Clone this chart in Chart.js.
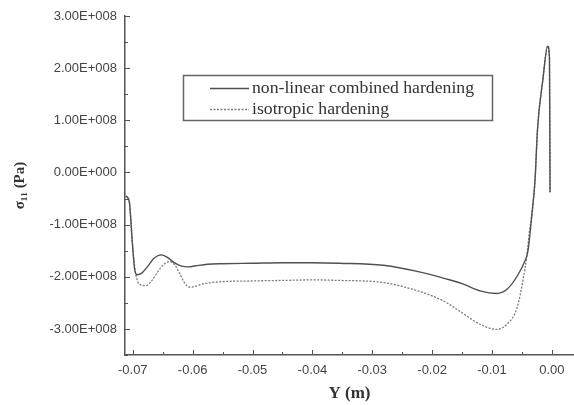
<!DOCTYPE html>
<html>
<head>
<meta charset="utf-8">
<script src="https://cdn.jsdelivr.net/npm/chart.js@4/dist/chart.umd.min.js"></script>
<style>
  html, body { margin: 0; padding: 0; background: #fff; }
  #wrap { width: 574px; height: 405px; }
</style>
</head>
<body>
<div id="wrap"><canvas id="stressChart" width="574" height="405"></canvas></div>
<script>
// position along Y (m) and stress sigma_11 (Pa), non-linear combined hardening
const combinedY = [-0.0712, -0.0706, -0.0701, -0.0697, -0.0693, -0.0685, -0.0675, -0.0665, -0.0652,
  -0.0642, -0.0632, -0.0620, -0.0607, -0.0595, -0.0575, -0.0550, -0.0500, -0.0450, -0.0400,
  -0.0355, -0.0282, -0.0216, -0.0180, -0.0150, -0.0120, -0.0092, -0.0075, -0.0058, -0.0045,
  -0.0040, -0.0033, -0.0028, -0.0024, -0.0015, -0.0007, -0.0004, -0.0003];
const combinedSig = [-0.45e8, -0.55e8, -1.3e8, -1.85e8, -1.96e8, -1.93e8, -1.8e8, -1.65e8, -1.58e8,
  -1.63e8, -1.72e8, -1.79e8, -1.81e8, -1.79e8, -1.76e8, -1.75e8, -1.74e8, -1.73e8, -1.73e8,
  -1.74e8, -1.78e8, -1.92e8, -2.03e8, -2.13e8, -2.27e8, -2.32e8, -2.24e8, -1.99e8, -1.70e8,
  -1.51e8, -0.77e8, -0.13e8, 0.82e8, 1.78e8, 2.42e8, 2.2e8, -0.38e8];

// isotropic hardening
const isoY = [-0.0712, -0.0706, -0.0700, -0.0695, -0.0688, -0.0678, -0.0668, -0.0658, -0.0648,
  -0.0638, -0.0630, -0.0622, -0.0615, -0.0609, -0.0603, -0.0595, -0.0580, -0.0560, -0.0500,
  -0.0450, -0.0400, -0.0355, -0.0282, -0.0216, -0.0180, -0.0154, -0.0120, -0.0092, -0.0075,
  -0.0058, -0.0048, -0.0042, -0.0037, -0.0033, -0.0028, -0.0024, -0.0015, -0.0007, -0.0004, -0.0003];
const isoSig = [-0.45e8, -0.55e8, -1.45e8, -1.95e8, -2.15e8, -2.17e8, -2.07e8, -1.9e8, -1.76e8,
  -1.71e8, -1.77e8, -1.93e8, -2.09e8, -2.18e8, -2.2e8, -2.18e8, -2.13e8, -2.1e8, -2.08e8,
  -2.07e8, -2.06e8, -2.07e8, -2.11e8, -2.30e8, -2.47e8, -2.66e8, -2.91e8, -3.01e8, -2.91e8,
  -2.59e8, -2.05e8, -1.61e8, -1.09e8, -0.77e8, -0.13e8, 0.82e8, 1.78e8, 2.42e8, 2.2e8, -0.38e8];

const xTicks = [-0.07, -0.06, -0.05, -0.04, -0.03, -0.02, -0.01, 0.00];
const xTickLabels = ['-0.07', '-0.06', '-0.05', '-0.04', '-0.03', '-0.02', '-0.01', '0.00'];
const yTicks = [-3e8, -2e8, -1e8, 0, 1e8, 2e8, 3e8];
const yTickLabels = ['-3.00E+008', '-2.00E+008', '-1.00E+008', '0.00E+000', '1.00E+008', '2.00E+008', '3.00E+008'];

const axisColor = '#555';

// small tick marks pointing into the plot, major and half-step minor
const innerTicks = {
  id: 'innerTicks',
  afterDraw(chart) {
    const ctx = chart.ctx;
    const xs = chart.scales.x, ys = chart.scales.y;
    ctx.save();
    ctx.strokeStyle = axisColor;
    ctx.lineWidth = 1;
    ctx.beginPath();
    xTicks.forEach((v, i) => {
      const px = Math.round(xs.getPixelForValue(v)) + 0.5;
      ctx.moveTo(px, ys.bottom); ctx.lineTo(px, ys.bottom - 5);
      const m = v - 0.005;
      if (m >= xs.min) {
        const mx = Math.round(xs.getPixelForValue(m)) + 0.5;
        ctx.moveTo(mx, ys.bottom); ctx.lineTo(mx, ys.bottom - 3);
      }
    });
    yTicks.forEach(v => {
      const py = Math.round(ys.getPixelForValue(v)) + 0.5;
      ctx.moveTo(xs.left, py); ctx.lineTo(xs.left + 5, py);
      const m = v - 0.5e8;
      if (m >= ys.min) {
        const my = Math.round(ys.getPixelForValue(m)) + 0.5;
        ctx.moveTo(xs.left, my); ctx.lineTo(xs.left + 3, my);
      }
    });
    ctx.stroke();
    ctx.restore();
  }
};

// boxed legend inside the plot
const boxLegend = {
  id: 'boxLegend',
  afterDraw(chart) {
    const ctx = chart.ctx;
    ctx.save();
    ctx.strokeStyle = '#666';
    ctx.lineWidth = 1.5;
    ctx.strokeRect(183.5, 75.5, 309, 45);
    ctx.font = '17.7px "Liberation Serif", serif';
    ctx.fillStyle = '#333';
    ctx.textBaseline = 'middle';
    chart.data.datasets.forEach((ds, i) => {
      const y = 88 + i * 21;
      ctx.strokeStyle = ds.borderColor;
      ctx.lineWidth = ds.borderWidth;
      ctx.setLineDash(ds.borderDash || []);
      ctx.beginPath();
      ctx.moveTo(210, y + 0.5); ctx.lineTo(249, y + 0.5);
      ctx.stroke();
      ctx.setLineDash([]);
      ctx.fillText(ds.label, 252, y);
    });
    ctx.restore();
  }
};

new Chart(document.getElementById('stressChart'), {
  type: 'line',
  data: {
    datasets: [{
      label: 'non-linear combined hardening',
      data: combinedY.map((x, i) => ({ x: x, y: combinedSig[i] })),
      borderColor: '#505050',
      borderWidth: 1.4,
      pointRadius: 0,
      cubicInterpolationMode: 'monotone'
    }, {
      label: 'isotropic hardening',
      data: isoY.map((x, i) => ({ x: x, y: isoSig[i] })),
      borderColor: '#7a7a7a',
      borderWidth: 1.3,
      borderDash: [2, 1.5],
      pointRadius: 0,
      cubicInterpolationMode: 'monotone'
    }]
  },
  options: {
    responsive: false,
    animation: false,
    layout: { padding: { top: 16, right: 0, bottom: 0, left: 0 } },
    plugins: {
      legend: { display: false },
      tooltip: { enabled: false }
    },
    scales: {
      x: {
        type: 'linear',
        min: -0.0713,
        max: 0.0037,
        afterBuildTicks: s => { s.ticks = xTicks.map(v => ({ value: v })); },
        afterFit: s => { s.height = 50; },
        grid: { display: true, drawOnChartArea: false, drawTicks: false },
        border: { display: true, color: axisColor, width: 1.5 },
        ticks: {
          padding: 8,
          color: '#444',
          font: { family: 'Liberation Sans, Arial, sans-serif', size: 13 },
          callback: (v) => xTickLabels[xTicks.findIndex(t => Math.abs(t - v) < 1e-9)]
        },
        title: {
          display: true,
          text: 'Y (m)',
          color: '#333',
          font: { family: 'Liberation Serif, serif', size: 17, weight: 'bold' },
          padding: { top: 0, bottom: 1 }
        }
      },
      y: {
        min: -3.5e8,
        max: 3e8,
        afterBuildTicks: s => { s.ticks = yTicks.map(v => ({ value: v })); },
        afterFit: s => { s.width = 125; },
        grid: { display: true, drawOnChartArea: false, drawTicks: false },
        border: { display: true, color: axisColor, width: 1.5 },
        ticks: {
          padding: 8,
          color: '#444',
          font: { family: 'Liberation Sans, Arial, sans-serif', size: 13 },
          callback: (v) => yTickLabels[yTicks.indexOf(v)]
        },
        title: {
          display: true,
          text: 'σ₁₁ (Pa)',
          color: '#333',
          font: { family: 'Liberation Serif, serif', size: 15, weight: 'bold' },
          padding: { top: 11, bottom: 0 }
        }
      }
    }
  },
  plugins: [innerTicks, boxLegend]
});
</script>
</body>
</html>
